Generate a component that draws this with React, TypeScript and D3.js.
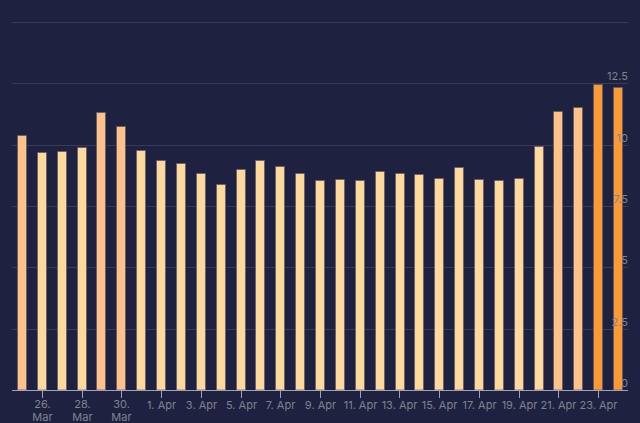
import React from "react";
import * as d3 from "d3";

const dates: string[] = [
  "25. Mar", "26. Mar", "27. Mar", "28. Mar", "29. Mar", "30. Mar", "31. Mar",
  "1. Apr", "2. Apr", "3. Apr", "4. Apr", "5. Apr", "6. Apr", "7. Apr", "8. Apr",
  "9. Apr", "10. Apr", "11. Apr", "12. Apr", "13. Apr", "14. Apr", "15. Apr",
  "16. Apr", "17. Apr", "18. Apr", "19. Apr", "20. Apr", "21. Apr", "22. Apr",
  "23. Apr", "24. Apr",
];
const values: number[] = [
  10.4, 9.68, 9.73, 9.92, 11.32, 10.78, 9.8, 9.39, 9.27, 8.86, 8.38, 9.0, 9.36,
  9.11, 8.86, 8.55, 8.59, 8.55, 8.92, 8.86, 8.81, 8.62, 9.07, 8.58, 8.55, 8.66,
  9.96, 11.39, 11.55, 12.48, 12.36,
];
const tickLabels: string[] = [
  "26. Mar", "28. Mar", "30. Mar", "1. Apr", "3. Apr", "5. Apr", "7. Apr",
  "9. Apr", "11. Apr", "13. Apr", "15. Apr", "17. Apr", "19. Apr", "21. Apr", "23. Apr",
];
const yTicks: number[] = [0, 2.5, 5, 7.5, 10, 12.5, 15];
const colorThresholds: number[] = [10, 12];
const colorRange: string[] = ["#fed99d", "#fdc18a", "#f89a35"];

const W = 640;
const H = 423;
const left = 12;
const right = 628;
const bottom = 390;

export default function App() {
  const x = d3.scaleBand<string>().domain(dates).range([left, right]).paddingInner(0.5).paddingOuter(0.25);
  const y = d3.scaleLinear().domain([0, 12.5]).range([bottom, 83.3]);
  const color = d3.scaleThreshold<number, string>().domain(colorThresholds).range(colorRange);
  const font = "Inter, 'Noto Sans', sans-serif";

  return (
    <div style={{ position: "fixed", left: 0, top: 0, width: W, height: H }}>
      <svg width={W} height={H} style={{ display: "block" }}>
        <rect x={0} y={0} width={W} height={H} fill="#1e2140" />
        {yTicks.map((t) => (
          <line key={"g" + t} x1={left} x2={right} y1={Math.round(y(t)) + 0.5} y2={Math.round(y(t)) + 0.5}
            stroke="#383b58" strokeWidth={1} />
        ))}
        {dates.map((d, i) => {
          const v = values[i];
          const x0 = x(d)!;
          return (
            <rect key={d} x={Math.round(x0) + 0.5} y={Math.round(y(v)) + 0.5} width={Math.round(x.bandwidth()) - 1}
              height={bottom - Math.round(y(v)) - 0.5} fill={color(v)} stroke="#5e5a66" strokeWidth={1} strokeOpacity={0.7} />
          );
        })}
        <line x1={left} x2={right} y1={bottom + 0.5} y2={bottom + 0.5} stroke="#9ea2bd" strokeWidth={1} />
        {tickLabels.map((lab) => {
          const cx = Math.round(x(lab)! + x.bandwidth() / 2) + 0.5;
          const parts = lab.split(" ");
          const wrap = lab.endsWith("Mar");
          return (
            <g key={lab}>
              <line x1={cx} x2={cx} y1={bottom} y2={bottom + 8} stroke="#9ea2bd" strokeWidth={1} />
              {wrap ? (
                <text x={cx} y={408} textAnchor="middle" fontFamily={font} fontSize={11} fill="#80838f">
                  <tspan x={cx} dy={0}>{parts[0]}</tspan>
                  <tspan x={cx} dy={13}>{parts[1]}</tspan>
                </text>
              ) : (
                <text x={cx} y={409} textAnchor="middle" fontFamily={font} fontSize={11} fill="#80838f">{lab}</text>
              )}
            </g>
          );
        })}
        {yTicks.filter((t) => t <= 12.5).map((t) => (
          <text key={"y" + t} x={right} y={y(t) - 3} textAnchor="end" fontFamily={font} fontSize={11} fill="#80838f">
            {d3.format("~g")(t)}
          </text>
        ))}
      </svg>
    </div>
  );
}
